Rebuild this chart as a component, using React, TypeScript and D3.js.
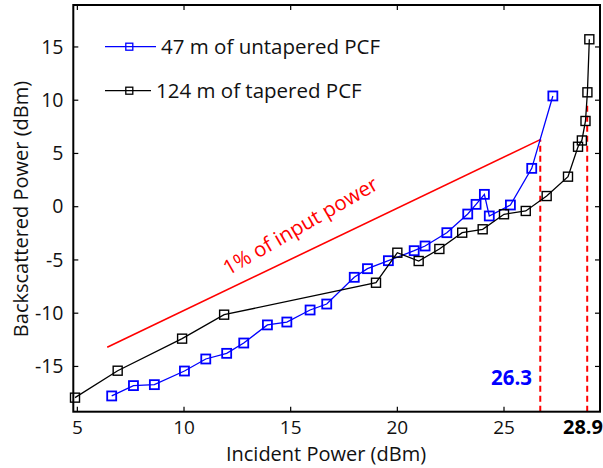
import * as d3 from 'd3';
import { useEffect, useRef } from 'react';

const untaperedX = [6.61, 7.63, 8.61, 10.02, 11.02, 12.0, 12.8, 13.91, 14.82, 15.91, 16.69, 17.98, 18.6, 19.58, 20.79, 21.3, 22.32, 23.3, 23.69, 24.08, 24.31, 25.3, 26.3, 27.29];
const untaperedY = [-17.77, -16.8, -16.71, -15.43, -14.3, -13.77, -12.8, -11.1, -10.83, -9.7, -9.14, -6.63, -5.82, -5.07, -4.13, -3.69, -2.44, -0.69, 0.22, 1.16, -0.87, 0.16, 3.6, 10.4];

const taperedX = [4.89, 6.89, 9.91, 11.88, 19.0, 20.0, 21.0, 21.97, 23.04, 24.0, 25.0, 26.02, 27.0, 28.0, 28.47, 28.65, 28.82, 28.91, 29.0];
const taperedY = [-17.93, -15.4, -12.39, -10.14, -7.14, -4.32, -5.1, -3.97, -2.44, -2.12, -0.71, -0.4, 1.0, 2.82, 5.63, 6.22, 8.05, 10.74, 15.72];

// 1% of input power reference line
const refX = [6.4, 26.7];
const refY = [-13.2, 6.3];

// thresholds
const thresholdX = [26.7, 28.9];
const thresholdTop = [6.3, 9.5];
const thresholdLabels = ['26.3', '28.9'];

const xTicks = [5, 10, 15, 20, 25];
const yTicks = [-15, -10, -5, 0, 5, 10, 15];

const seriesNames = ['47 m of untapered PCF', '124 m of tapered PCF'];

export default function App() {
    const ref = useRef<HTMLDivElement>(null);

    useEffect(() => {
        const width = 603;
        const height = 468;
        const margin = { top: 5, right: 3, bottom: 56.3, left: 73.3 };
        const font = 'Open Sans';
        const textColor = '#111';

        const root = d3.select(ref.current);
        root.selectAll('*').remove();

        const svg = root
            .append('svg')
            .attr('width', width)
            .attr('height', height)
            .style('position', 'absolute')
            .style('left', 0)
            .style('top', 0)
            .style('background', 'white');

        const x = d3.scaleLinear().domain([4.81, 29.5]).range([margin.left, width - margin.right]);
        const y = d3.scaleLinear().domain([-19.25, 18.94]).range([height - margin.bottom, margin.top]);

        const line = d3.line<[number, number]>().x(d => x(d[0])).y(d => y(d[1]));

        // red reference line
        svg.append('path')
            .attr('d', line(refX.map((v, i) => [v, refY[i]] as [number, number])))
            .attr('fill', 'none')
            .attr('stroke', '#ff0000')
            .attr('stroke-width', 1.6);

        // dashed thresholds
        thresholdX.forEach((v, i) => {
            svg.append('line')
                .attr('x1', x(v)).attr('x2', x(v))
                .attr('y1', y.range()[0]).attr('y2', y(thresholdTop[i]))
                .attr('stroke', '#ff0000')
                .attr('stroke-width', 2)
                .attr('stroke-dasharray', '6,4');
        });

        const series = [
            { xs: untaperedX, ys: untaperedY, color: '#0000ff', sw: 1.8 },
            { xs: taperedX, ys: taperedY, color: '#000000', sw: 1.4 }
        ];

        const ms = 9;
        series.forEach(s => {
            const pts = s.xs.map((v, i) => [v, s.ys[i]] as [number, number]);
            svg.append('path')
                .attr('d', line(pts))
                .attr('fill', 'none')
                .attr('stroke', s.color)
                .attr('stroke-width', 1.3);
            svg.append('g')
                .selectAll('rect')
                .data(pts)
                .join('rect')
                .attr('x', d => x(d[0]) - ms / 2)
                .attr('y', d => y(d[1]) - ms / 2)
                .attr('width', ms)
                .attr('height', ms)
                .attr('fill', 'none')
                .attr('stroke', s.color)
                .attr('stroke-width', s.sw);
        });

        // frame with inward ticks
        const [x0, x1] = x.range();
        const [yb, yt] = y.range();
        const tl = 5;
        const axisG = svg.append('g').attr('stroke', 'black');
        xTicks.forEach(t => {
            axisG.append('line').attr('x1', x(t)).attr('x2', x(t)).attr('y1', yb).attr('y2', yb - tl).attr('stroke-width', 1.2);
            axisG.append('line').attr('x1', x(t)).attr('x2', x(t)).attr('y1', yt).attr('y2', yt + tl).attr('stroke-width', 1.2);
        });
        yTicks.forEach(t => {
            axisG.append('line').attr('x1', x0).attr('x2', x0 + tl).attr('y1', y(t)).attr('y2', y(t)).attr('stroke-width', 1.2);
            axisG.append('line').attr('x1', x1).attr('x2', x1 - tl).attr('y1', y(t)).attr('y2', y(t)).attr('stroke-width', 1.2);
        });
        svg.append('rect')
            .attr('x', x0).attr('y', yt)
            .attr('width', x1 - x0).attr('height', yb - yt)
            .attr('fill', 'none')
            .attr('stroke', 'black')
            .attr('stroke-width', 2);

        // tick labels
        svg.append('g')
            .selectAll('text')
            .data(xTicks)
            .join('text')
            .attr('x', d => x(d))
            .attr('y', 434)
            .attr('text-anchor', 'middle')
            .attr('font-family', font)
            .attr('font-size', 19)
            .attr('fill', textColor)
            .text(d => d);

        svg.append('g')
            .selectAll('text')
            .data(yTicks)
            .join('text')
            .attr('x', 63.5)
            .attr('y', d => y(d) + 6.8)
            .attr('text-anchor', 'end')
            .attr('font-family', font)
            .attr('font-size', 19.5)
            .attr('fill', textColor)
            .text(d => d);

        // axis labels
        svg.append('text')
            .attr('x', 326)
            .attr('y', 461)
            .attr('text-anchor', 'middle')
            .attr('font-family', font)
            .attr('font-size', 20)
            .attr('fill', textColor)
            .text('Incident Power (dBm)');

        svg.append('text')
            .attr('transform', `translate(28,209) rotate(-90)`)
            .attr('text-anchor', 'middle')
            .attr('font-family', font)
            .attr('font-size', 20)
            .attr('fill', textColor)
            .text('Backscattered Power (dBm)');

        // threshold labels
        svg.append('text')
            .attr('x', 532)
            .attr('y', 385)
            .attr('text-anchor', 'end')
            .attr('font-family', font)
            .attr('font-weight', 'bold')
            .attr('font-size', 20.5)
            .attr('fill', '#0000ff')
            .text(thresholdLabels[0]);

        svg.append('text')
            .attr('x', 603)
            .attr('y', 434)
            .attr('text-anchor', 'end')
            .attr('font-family', font)
            .attr('font-weight', 'bold')
            .attr('font-size', 20)
            .attr('fill', '#000')
            .text(thresholdLabels[1]);

        // red annotation
        svg.append('text')
            .attr('transform', `translate(304,232) rotate(-30)`)
            .attr('text-anchor', 'middle')
            .attr('font-family', font)
            .attr('font-size', 20.5)
            .attr('fill', '#ff0000')
            .text('1% of input power');

        // legend
        const legendY = [46.7, 90.7];
        const legendColors = ['#0000ff', '#000000'];
        const legendTextX = [161, 156];
        seriesNames.forEach((name, i) => {
            svg.append('line')
                .attr('x1', 105).attr('x2', legendTextX[i] - 5)
                .attr('y1', legendY[i]).attr('y2', legendY[i])
                .attr('stroke', legendColors[i])
                .attr('stroke-width', 1.3);
            svg.append('rect')
                .attr('x', 129.3 - 3.5).attr('y', legendY[i] - 3.5)
                .attr('width', 7).attr('height', 7)
                .attr('fill', 'none')
                .attr('stroke', legendColors[i])
                .attr('stroke-width', 1.3);
            svg.append('text')
                .attr('x', legendTextX[i])
                .attr('y', legendY[i] + 7.2)
                .attr('font-family', font)
                .attr('font-size', 20.5)
                .attr('fill', textColor)
                .text(name);
        });
    }, []);

    return <div ref={ref}></div>;
}
